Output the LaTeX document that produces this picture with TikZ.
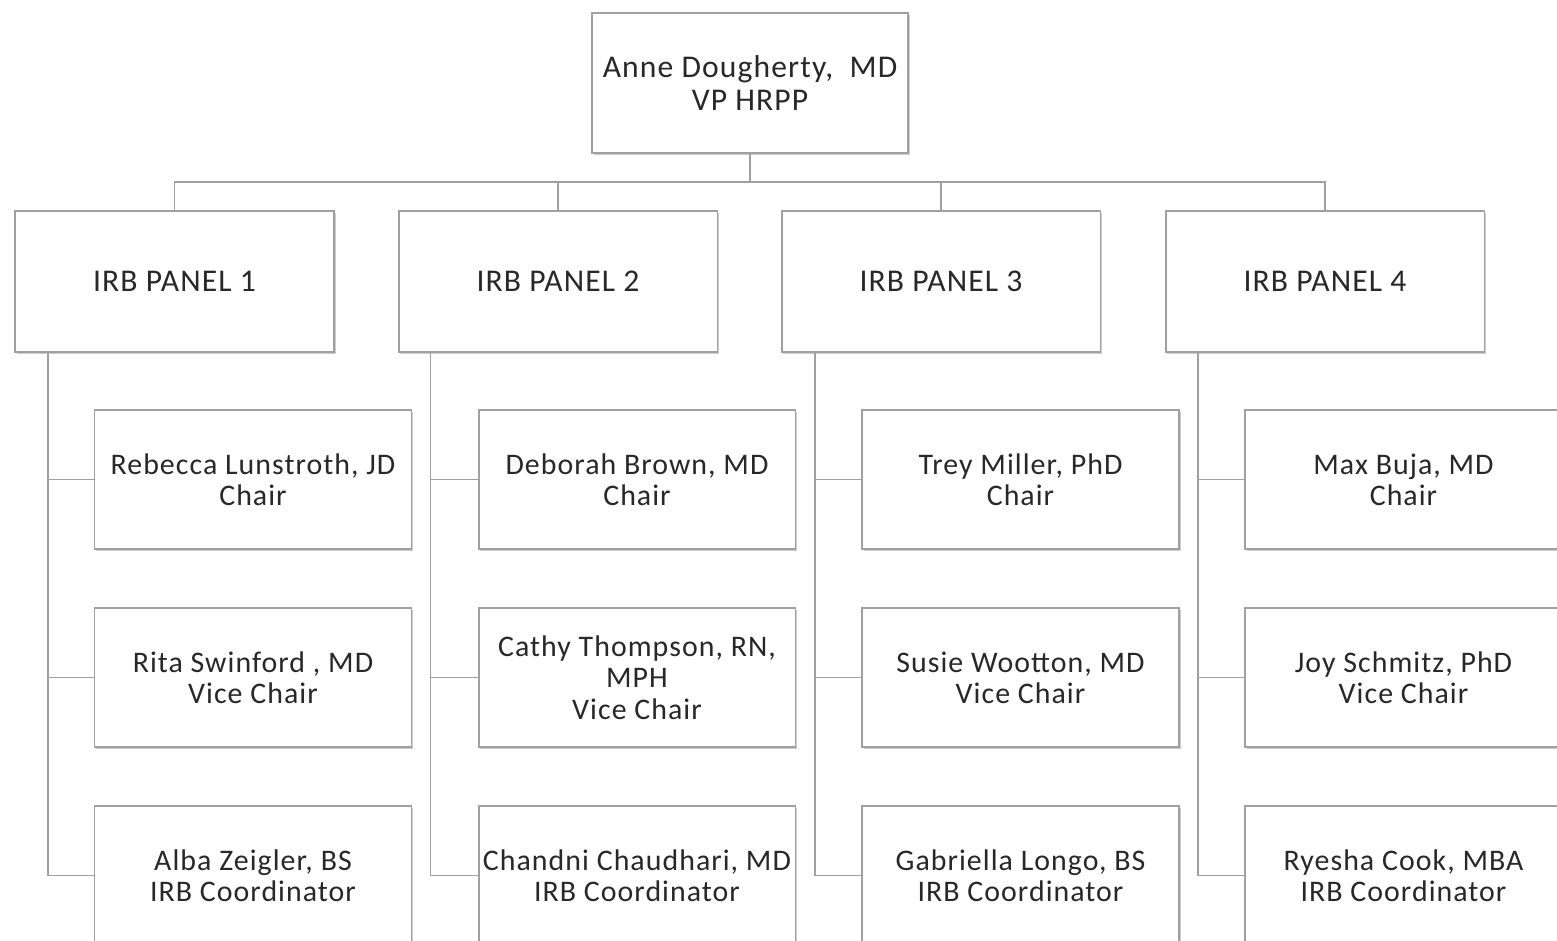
\documentclass[tikz,border=0pt]{standalone}
\usepackage{fontspec}
\setmainfont{Carlito}[LetterSpace=3.5]
\usetikzlibrary{shadows}
\definecolor{linegray}{RGB}{160,160,160}
\definecolor{shadegray}{RGB}{205,205,205}
\definecolor{textgray}{RGB}{40,40,40}
\begin{document}
\begin{tikzpicture}[x=0.02cm, y=-0.02cm,
		box/.style={draw=linegray, line width=1.1pt, fill=white, inner sep=0pt, outer sep=0pt,
			align=center, text=textgray, font=\fontsize{17}{17.8}\selectfont,
			drop shadow={shadow xshift=0.9pt, shadow yshift=-0.9pt, fill=shadegray, opacity=1}},
		headbox/.style={box, minimum width=6.32cm, minimum height=2.8cm, font=\fontsize{18}{19.2}\selectfont},
		panelbox/.style={box, minimum width=6.38cm, minimum height=2.82cm, font=\fontsize{18}{19.2}\selectfont},
		memberbox/.style={box, minimum width=6.34cm, minimum height=2.78cm},
		link/.style={draw=linegray, line width=1.1pt}]
		\clip ( 0, 0 ) rectangle ( 1557, 940 );
		\fill [white] ( 0, 0 ) rectangle ( 1557, 940 );

		% руководитель
		\node [headbox] (head) at ( 750, 83 ) {Anne Dougherty,\ \ MD\\VP HRPP};
		\coordinate (bus) at ( 750, 182 );

		% панели
		\node [panelbox] (p1) at ( 174.5, 281.5 ) {IRB PANEL 1};
		\node [panelbox] (p2) at ( 558, 281.5 ) {IRB PANEL 2};
		\node [panelbox] (p3) at ( 941, 281.5 ) {IRB PANEL 3};
		\node [panelbox] (p4) at ( 1325, 281.5 ) {IRB PANEL 4};

		\draw [link] (head.south) -- (bus) -| (p1.north);
		\draw [link] (head.south) -- (bus) -| (p2.north);
		\draw [link] (head.south) -- (bus) -| (p3.north);
		\draw [link] (head.south) -- (bus) -| (p4.north);

		% панель 1
		\node [memberbox] (m11) at ( 253, 479.5 ) {Rebecca Lunstroth, JD\\Chair};
		\node [memberbox] (m12) at ( 253, 677.5 ) {Rita Swinford , MD\\Vice Chair};
		\node [memberbox] (m13) at ( 253, 875.5 ) {Alba Zeigler, BS\\IRB Coordinator};
		\coordinate (s1) at ([xshift=0.66cm]p1.south west);
		\draw [link] (s1) |- (m11.west);
		\draw [link] (s1) |- (m12.west);
		\draw [link] (s1) |- (m13.west);

		% панель 2
		\node [memberbox] (m21) at ( 637, 479.5 ) {Deborah Brown, MD\\Chair};
		\node [memberbox] (m22) at ( 637, 677.5 ) {Cathy Thompson, RN,\\MPH\\Vice Chair};
		\node [memberbox] (m23) at ( 637, 875.5 ) {Chandni Chaudhari, MD\\IRB Coordinator};
		\coordinate (s2) at ([xshift=0.64cm]p2.south west);
		\draw [link] (s2) |- (m21.west);
		\draw [link] (s2) |- (m22.west);
		\draw [link] (s2) |- (m23.west);

		% панель 3
		\node [memberbox] (m31) at ( 1020.5, 479.5 ) {Trey Miller, PhD\\Chair};
		\node [memberbox] (m32) at ( 1020.5, 677.5 ) {Susie Wootton, MD\\Vice Chair};
		\node [memberbox] (m33) at ( 1020.5, 875.5 ) {Gabriella Longo, BS\\IRB Coordinator};
		\coordinate (s3) at ([xshift=0.66cm]p3.south west);
		\draw [link] (s3) |- (m31.west);
		\draw [link] (s3) |- (m32.west);
		\draw [link] (s3) |- (m33.west);

		% панель 4
		\node [memberbox] (m41) at ( 1403.5, 479.5 ) {Max Buja, MD\\Chair};
		\node [memberbox] (m42) at ( 1403.5, 677.5 ) {Joy Schmitz, PhD\\Vice Chair};
		\node [memberbox] (m43) at ( 1403.5, 875.5 ) {Ryesha Cook, MBA\\IRB Coordinator};
		\coordinate (s4) at ([xshift=0.64cm]p4.south west);
		\draw [link] (s4) |- (m41.west);
		\draw [link] (s4) |- (m42.west);
		\draw [link] (s4) |- (m43.west);
	\end{tikzpicture}
\end{document}
